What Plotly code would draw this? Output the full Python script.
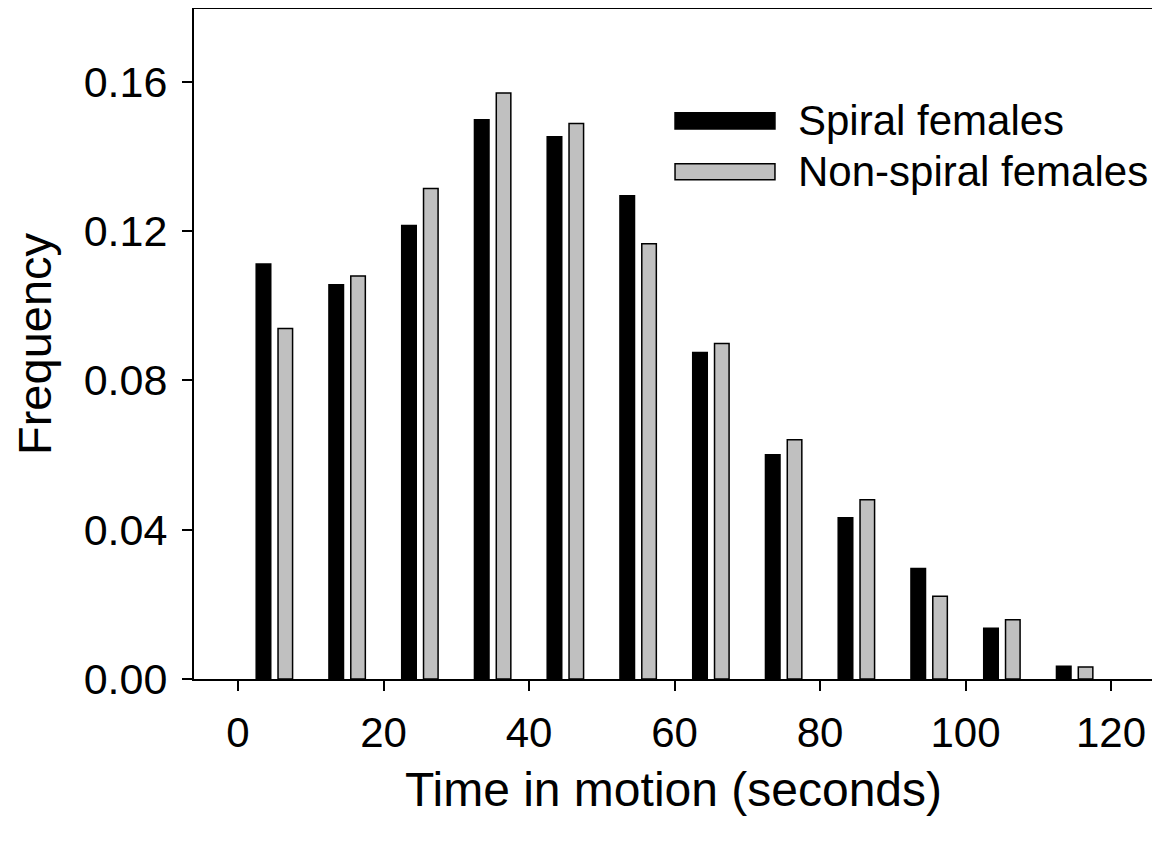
import plotly.graph_objects as go

# Data
bin_starts = [0, 10, 20, 30, 40, 50, 60, 70, 80, 90, 100, 110]
spiral = [0.1112, 0.1056, 0.1215, 0.1498, 0.1453, 0.1295, 0.0875, 0.0601, 0.0432, 0.0296, 0.0136, 0.0034]
non_spiral = [0.0939, 0.1080, 0.1314, 0.1570, 0.1488, 0.1166, 0.0899, 0.0641, 0.0480, 0.0222, 0.0159, 0.0032]
x_ticks = [0, 20, 40, 60, 80, 100, 120]
y_ticks = [0.00, 0.04, 0.08, 0.12, 0.16]
series_names = ["Spiral females", "Non-spiral females"]
x_title = "Time in motion (seconds)"
y_title = "Frequency"

FONT = "Liberation Sans, Arial, sans-serif"
GREY = "#c0c0c0"

centers = [b + 5 for b in bin_starts]

fig = go.Figure()
fig.add_trace(go.Bar(
    x=centers, y=spiral, width=2, offset=-2.5,
    marker=dict(color="black", line=dict(color="black", width=1.5)),
    name=series_names[0], showlegend=False,
))
fig.add_trace(go.Bar(
    x=centers, y=non_spiral, width=2, offset=0.5,
    marker=dict(color=GREY, line=dict(color="black", width=1.5)),
    name=series_names[1], showlegend=False,
))

# Legend drawn manually (wide bar symbols)
leg_items = [(series_names[0], "black", 0.833), (series_names[1], GREY, 0.757)]
for name, col, yc in leg_items:
    fig.add_shape(type="rect", xref="paper", yref="paper",
                  x0=0.5016, x1=0.6058, y0=yc - 0.0120, y1=yc + 0.0120,
                  fillcolor=col, line=dict(color="black", width=1.5))
    fig.add_annotation(text=name, xref="paper", yref="paper", x=0.6275, y=yc,
                       xanchor="left", yanchor="middle", showarrow=False,
                       font=dict(family=FONT, size=42, color="black"))

# y-axis title as a rotated annotation so it can sit near the page edge
fig.add_annotation(text=y_title, xref="paper", yref="paper", x=0, y=0.5,
                   xanchor="center", yanchor="middle", xshift=-160, textangle=-90,
                   showarrow=False, font=dict(family=FONT, size=47, color="black"))

# page body has an 8px margin: size the figure so the page is about 1160x842
fig.update_layout(
    width=1152, height=822,
    margin=dict(l=186, r=7, t=1, b=151),
    paper_bgcolor="white", plot_bgcolor="white",
    barmode="overlay",
    font=dict(family=FONT, size=42, color="black"),
    showlegend=False,
)
fig.update_xaxes(
    range=[-6.05, 125.77], tickvals=x_ticks, ticks="outside", ticklen=10, tickwidth=2,
    tickcolor="black", showline=True, linecolor="black", linewidth=2, mirror=True,
    showgrid=False, zeroline=False, ticklabelstandoff=6, automargin=False,
    tickfont=dict(family=FONT, size=42),
    title=dict(text=x_title, font=dict(family=FONT, size=48), standoff=17),
)
fig.update_yaxes(
    range=[0, 0.1795], tickvals=y_ticks, tickformat=".2f", ticks="outside", ticklen=10, tickwidth=2,
    tickcolor="black", showline=True, linecolor="black", linewidth=2, mirror=True,
    showgrid=False, zeroline=False, ticklabelstandoff=6, automargin=False,
    tickfont=dict(family=FONT, size=43),
)

fig.write_html("out.html")
